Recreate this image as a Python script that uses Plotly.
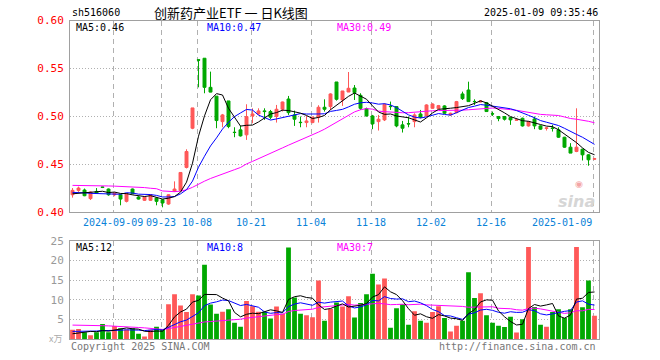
import plotly.graph_objects as go

# ---------------- data ----------------
dates = [
    "2024-08-29", "2024-08-30",
    "2024-09-02", "2024-09-03", "2024-09-04", "2024-09-05", "2024-09-06",
    "2024-09-09", "2024-09-10", "2024-09-11", "2024-09-12", "2024-09-13",
    "2024-09-18", "2024-09-19", "2024-09-20",
    "2024-09-23", "2024-09-24", "2024-09-25", "2024-09-26", "2024-09-27",
    "2024-09-30",
    "2024-10-08", "2024-10-09", "2024-10-10", "2024-10-11",
    "2024-10-14", "2024-10-15", "2024-10-16", "2024-10-17", "2024-10-18",
    "2024-10-21", "2024-10-22", "2024-10-23", "2024-10-24", "2024-10-25",
    "2024-10-28", "2024-10-29", "2024-10-30", "2024-10-31",
    "2024-11-01",
    "2024-11-04", "2024-11-05", "2024-11-06", "2024-11-07", "2024-11-08",
    "2024-11-11", "2024-11-12", "2024-11-13", "2024-11-14", "2024-11-15",
    "2024-11-18", "2024-11-19", "2024-11-20", "2024-11-21", "2024-11-22",
    "2024-11-25", "2024-11-26", "2024-11-27", "2024-11-28", "2024-11-29",
    "2024-12-02", "2024-12-03", "2024-12-04", "2024-12-05", "2024-12-06",
    "2024-12-09", "2024-12-10", "2024-12-11", "2024-12-12", "2024-12-13",
    "2024-12-16", "2024-12-17", "2024-12-18", "2024-12-19", "2024-12-20",
    "2024-12-23", "2024-12-24", "2024-12-25", "2024-12-26", "2024-12-27",
    "2024-12-30", "2024-12-31",
    "2025-01-02", "2025-01-03", "2025-01-06", "2025-01-07", "2025-01-08",
    "2025-01-09",
]

opens = [
    0.4180, 0.4226, 0.4230, 0.4140, 0.4215, 0.4262, 0.4240, 0.4180, 0.4180, 0.4111,
    0.4240, 0.4156, 0.4122, 0.4122, 0.4146, 0.4128, 0.4083, 0.4215, 0.4226, 0.4465,
    0.4875, 0.5590, 0.5606, 0.5302, 0.5210, 0.4944, 0.5160, 0.4833, 0.4858, 0.4806,
    0.5003, 0.5024, 0.5056, 0.5049, 0.4997, 0.5073, 0.5180, 0.5014, 0.4937, 0.4934,
    0.4934, 0.4990, 0.5094, 0.5101, 0.5358, 0.5170, 0.5253, 0.5295, 0.5219, 0.5080,
    0.5003, 0.4944, 0.4962, 0.5104, 0.5101, 0.4910, 0.4923, 0.4944, 0.5024, 0.5003,
    0.5083, 0.5080, 0.5108, 0.5014, 0.5038, 0.5233, 0.5274, 0.5155, 0.5149, 0.5142,
    0.5026, 0.4997, 0.4997, 0.4986, 0.4958, 0.4979, 0.4899, 0.4972, 0.4899, 0.4872,
    0.4878, 0.4858, 0.4781, 0.4677, 0.4632, 0.4656, 0.4597, 0.4552,
]
highs = [
    0.4250, 0.4265, 0.4245, 0.4215, 0.4250, 0.4265, 0.4245, 0.4205, 0.4185, 0.4195,
    0.4245, 0.4165, 0.4160, 0.4185, 0.4150, 0.4135, 0.4185, 0.4320, 0.4415, 0.4655,
    0.5087, 0.5592, 0.5608, 0.5466, 0.5210, 0.5024, 0.5160, 0.4885, 0.4900, 0.5125,
    0.5083, 0.5083, 0.5083, 0.5066, 0.5118, 0.5153, 0.5212, 0.5059, 0.4997, 0.5003,
    0.4997, 0.5115, 0.5177, 0.5240, 0.5358, 0.5264, 0.5462, 0.5326, 0.5240, 0.5090,
    0.5014, 0.5014, 0.5135, 0.5153, 0.5104, 0.4951, 0.4997, 0.5031, 0.5066, 0.5125,
    0.5135, 0.5118, 0.5115, 0.5038, 0.5160, 0.5257, 0.5361, 0.5177, 0.5163, 0.5149,
    0.5049, 0.5003, 0.5003, 0.4993, 0.4969, 0.4986, 0.4951, 0.4997, 0.4906, 0.4885,
    0.4910, 0.4885, 0.4785, 0.4719, 0.5083, 0.4660, 0.4604, 0.4565,
]
lows = [
    0.4150, 0.4210, 0.4165, 0.4125, 0.4190, 0.4250, 0.4170, 0.4165, 0.4070, 0.4100,
    0.4185, 0.4130, 0.4115, 0.4115, 0.4070, 0.4049, 0.4075, 0.4210, 0.4220, 0.4455,
    0.4865, 0.5302, 0.5240, 0.5250, 0.4875, 0.4885, 0.4875, 0.4781, 0.4788, 0.4753,
    0.4927, 0.5014, 0.4962, 0.4969, 0.4934, 0.5050, 0.5014, 0.4899, 0.4885, 0.4885,
    0.4927, 0.4934, 0.5049, 0.5066, 0.5163, 0.5108, 0.5253, 0.5170, 0.5066, 0.4997,
    0.4865, 0.4851, 0.4950, 0.5066, 0.4885, 0.4830, 0.4885, 0.4885, 0.4979, 0.4997,
    0.5080, 0.5073, 0.5024, 0.5007, 0.5031, 0.5170, 0.5149, 0.5118, 0.5146, 0.5045,
    0.5003, 0.4948, 0.4955, 0.4910, 0.4955, 0.4892, 0.4892, 0.4865, 0.4858, 0.4851,
    0.4840, 0.4774, 0.4670, 0.4615, 0.4625, 0.4538, 0.4483, 0.4545,
]
closes = [
    0.4226, 0.4250, 0.4170, 0.4208, 0.4198, 0.4257, 0.4180, 0.4198, 0.4135, 0.4191,
    0.4191, 0.4135, 0.4156, 0.4180, 0.4111, 0.4094, 0.4180, 0.4240, 0.4413, 0.4632,
    0.5087, 0.5586, 0.5302, 0.5252, 0.4955, 0.5014, 0.4892, 0.4830, 0.4795, 0.4997,
    0.5024, 0.5056, 0.5049, 0.4990, 0.5073, 0.5149, 0.5038, 0.4969, 0.4934, 0.4951,
    0.4990, 0.5094, 0.5073, 0.5233, 0.5177, 0.5264, 0.5292, 0.5247, 0.5083, 0.5003,
    0.4920, 0.4969, 0.5125, 0.5101, 0.4899, 0.4875, 0.4920, 0.5014, 0.4990, 0.5118,
    0.5128, 0.5111, 0.5031, 0.5031, 0.5153, 0.5184, 0.5153, 0.5153, 0.5160, 0.5049,
    0.5024, 0.4976, 0.4969, 0.4962, 0.4962, 0.4899, 0.4944, 0.4899, 0.4865, 0.4878,
    0.4872, 0.4781, 0.4677, 0.4615, 0.4677, 0.4597, 0.4545, 0.4556,
]
volumes = [
    2.4, 2.6, 1.8, 1.0, 1.8, 3.9, 1.8, 3.4, 2.8, 2.5,
    2.8, 1.4, 0.7, 2.4, 3.2, 2.5, 8.9, 11.4, 8.6, 6.9,
    11.4, 11.1, 18.9, 8.8, 6.5, 7.0, 7.6, 4.2, 3.2, 9.7,
    8.4, 7.0, 7.0, 5.3, 8.3, 6.5, 23.3, 10.6, 6.5, 6.1,
    5.6, 14.9, 4.7, 7.7, 9.3, 8.3, 10.9, 5.5, 9.2, 11.4,
    16.6, 13.9, 15.4, 2.9, 7.9, 8.9, 3.7, 7.1, 4.7, 4.2,
    6.9, 8.4, 5.4, 1.95, 3.45, 4.7, 17.0, 10.5, 11.7, 6.1,
    4.2, 3.45, 3.1, 5.7, 1.7, 5.1, 23.4, 8.2, 3.7, 3.2,
    6.9, 7.6, 5.4, 7.6, 23.4, 8.1, 14.9, 6.0,
]

# moving-average values before a full window exists
ma5_head = [0.4190, 0.4195, 0.4200, 0.4205]
ma10_head = [0.4205, 0.4205, 0.4200, 0.4195, 0.4192, 0.4190, 0.4190, 0.4188, 0.4185]
ma30_head = [
    0.4278, 0.4278, 0.4278, 0.4278, 0.4278, 0.4278, 0.4272, 0.4270, 0.4268, 0.4265,
    0.4263, 0.4260, 0.4255, 0.4248, 0.4243, 0.4220, 0.4215, 0.4212, 0.4218, 0.4232,
    0.4258, 0.4292, 0.4322, 0.4350, 0.4375, 0.4398, 0.4420, 0.4442, 0.4465,
]
vma5_head = [1.4, 1.6, 1.8, 2.0]
vma10_head = [2.0, 2.0, 2.0, 2.1, 2.1, 2.2, 2.2, 2.3, 2.3]
vma30_head = [
    3.6, 3.6, 3.55, 3.5, 3.5, 3.45, 3.4, 3.35, 3.3, 3.2,
    3.1, 3.0, 2.9, 2.8, 2.6, 2.5, 2.7, 3.0, 3.2, 3.5,
    3.8, 4.2, 4.4, 4.5, 4.6, 4.7, 4.9, 5.0, 5.1,
]

tick_dates = ["2024-09-09", "2024-09-23", "2024-10-08", "2024-10-21", "2024-11-04",
              "2024-11-18", "2024-12-02", "2024-12-16", "2025-01-09"]
tick_text = ["2024-09-09", "09-23", "10-08", "10-21", "11-04",
             "11-18", "12-02", "12-16", "2025-01-09"]

price_ticks = [0.40, 0.45, 0.50, 0.55, 0.60]
price_tick_text = ["0.40", "0.45", "0.50", "0.55", "0.60"]
vol_ticks = [5, 10, 15, 20, 25]
vol_tick_text = ["5", "10", "15", "20", "25"]

title_text = "创新药产业ETF\u00a0一\u00a0日K线图"
code_text = "sh516060"
time_text = "2025-01-09 09:35:46"
price_legend = ["MA5:0.46", "MA10:0.47", "MA30:0.49"]
vol_legend = ["MA5:12", "MA10:8", "MA30:7"]

# ---------------- styling ----------------
RED = "#ff5858"
GREEN = "#00a800"
FRAME = "#a0a0a0"
GRID = "#b0b0b0"
MONO = "DejaVu Sans Mono"

W, H = 660, 360


def px_x(p):
    return p / W


def px_y(p):
    return 1 - p / H


def moving_avg(vals, n, head):
    out = list(head)
    for i in range(len(head), len(vals)):
        out.append(sum(vals[i - n + 1:i + 1]) / n)
    return out


idx = list(range(len(dates)))
ma5 = moving_avg(closes, 5, ma5_head)
ma10 = moving_avg(closes, 10, ma10_head)
ma30 = moving_avg(closes, 30, ma30_head)
vma5 = moving_avg(volumes, 5, vma5_head)
vma10 = moving_avg(volumes, 10, vma10_head)
vma30 = moving_avg(volumes, 30, vma30_head)

tick_pos = [dates.index(d) - 0.2 for d in tick_dates]
vol_colors = [RED if c >= o else GREEN for o, c in zip(opens, closes)]

fig = go.Figure()

fig.add_trace(go.Candlestick(
    x=idx, open=opens, high=highs, low=lows, close=closes,
    increasing=dict(line=dict(color=RED, width=1), fillcolor=RED),
    decreasing=dict(line=dict(color=GREEN, width=1), fillcolor=GREEN),
    whiskerwidth=0, xaxis="x", yaxis="y", showlegend=False, hoverinfo="skip",
))
for series, color in ((ma30, "#ff00ff"), (ma10, "#0000ff"), (ma5, "#000000")):
    fig.add_trace(go.Scatter(x=idx, y=series, mode="lines",
                             line=dict(color=color, width=1),
                             xaxis="x", yaxis="y", showlegend=False, hoverinfo="skip"))

fig.add_trace(go.Bar(x=idx, y=volumes, marker=dict(color=vol_colors, line=dict(width=0)),
                     width=0.8, xaxis="x2", yaxis="y2", showlegend=False, hoverinfo="skip"))
for series, color in ((vma30, "#ff00ff"), (vma10, "#0000ff"), (vma5, "#000000")):
    fig.add_trace(go.Scatter(x=idx, y=series, mode="lines",
                             line=dict(color=color, width=1),
                             xaxis="x2", yaxis="y2", showlegend=False, hoverinfo="skip"))

xdom = [px_x(70), px_x(599)]
xrange_ = [-0.42, len(dates) - 1 + 0.75]

common_x = dict(range=xrange_, domain=xdom, showline=True, mirror=True,
                linecolor=FRAME, linewidth=1, tickvals=tick_pos, showticklabels=False,
                ticks="", showgrid=True, gridcolor=GRID, griddash="5px,4px", gridwidth=1,
                zeroline=False, fixedrange=True)

annotations = []
# x tick labels
for pos, txt in zip(tick_pos, tick_text):
    last = txt == tick_text[-1]
    annotations.append(dict(
        x=pos + (0.12 if last else 0), y=px_y(222), xref="x", yref="paper",
        text=txt, showarrow=False, xanchor="right" if last else "center", yanchor="middle",
        font=dict(family=MONO, size=10, color="#0a82d8")))

hdr_font = dict(family=MONO, size=10, color="#000000")
annotations += [
    dict(x=px_x(70), y=px_y(13), xref="paper", yref="paper", text=code_text,
         showarrow=False, xanchor="left", yanchor="middle", font=hdr_font),
    dict(x=px_x(231), y=px_y(13), xref="paper", yref="paper", text=title_text,
         showarrow=False, xanchor="center", yanchor="middle",
         font=dict(family="Noto Sans CJK SC", size=13, color="#000000")),
    dict(x=px_x(600), y=px_y(13), xref="paper", yref="paper", text=time_text,
         showarrow=False, xanchor="right", yanchor="middle", font=hdr_font),
]
leg_colors = ["#000000", "#0000ff", "#ff00ff"]
for txt, col, xp in zip(price_legend, leg_colors, (74, 205, 335)):
    annotations.append(dict(x=px_x(xp), y=px_y(28), xref="paper", yref="paper", text=txt,
                            showarrow=False, xanchor="left", yanchor="middle",
                            font=dict(family=MONO, size=10, color=col)))
for txt, col, xp in zip(vol_legend, leg_colors, (74, 205, 335)):
    annotations.append(dict(x=px_x(xp), y=px_y(247), xref="paper", yref="paper", text=txt,
                            showarrow=False, xanchor="left", yanchor="middle",
                            font=dict(family=MONO, size=10, color=col)))
annotations += [
    dict(x=px_x(69), y=px_y(346), xref="paper", yref="paper", text="Copyright 2025 SINA.COM",
         showarrow=False, xanchor="left", yanchor="middle",
         font=dict(family=MONO, size=10, color="#777777")),
    dict(x=px_x(598), y=px_y(346), xref="paper", yref="paper", text="http://finance.sina.com.cn",
         showarrow=False, xanchor="right", yanchor="middle",
         font=dict(family=MONO, size=10, color="#777777")),
    dict(x=px_x(64), y=px_y(338), xref="paper", yref="paper", text="x万",
         showarrow=False, xanchor="right", yanchor="middle",
         font=dict(family="Noto Sans CJK SC", size=9, color="#aaaaaa")),
    dict(x=px_x(597), y=px_y(201), xref="paper", yref="paper", text="<b><i>sina</i></b>",
         showarrow=False, xanchor="right", yanchor="middle",
         font=dict(family="DejaVu Sans", size=16, color="#d6d6d6")),
    dict(x=px_x(579), y=px_y(184), xref="paper", yref="paper", text="◉",
         showarrow=False, xanchor="center", yanchor="middle",
         font=dict(family="DejaVu Sans", size=9, color="#f3a5a5")),
]

fig.update_layout(
    width=W, height=H, autosize=False,
    margin=dict(l=0, r=0, t=0, b=0, pad=0),
    paper_bgcolor="#ffffff", plot_bgcolor="#ffffff",
    showlegend=False, bargap=0.2,
    xaxis=dict(common_x, anchor="y", rangeslider=dict(visible=False)),
    xaxis2=dict(common_x, anchor="y2"),
    yaxis=dict(domain=[px_y(212), px_y(20.5)], range=[0.40, 0.60], anchor="x",
               tickvals=price_ticks, ticktext=price_tick_text,
               tickfont=dict(family=MONO, size=11, color="#ff0000"),
               ticks="outside", ticklen=3, tickcolor="rgba(0,0,0,0)",
               showline=True, mirror=True, linecolor=FRAME, linewidth=1,
               showgrid=True, gridcolor=GRID, griddash="1px,2px", gridwidth=1,
               zeroline=False, fixedrange=True, automargin=False),
    yaxis2=dict(domain=[px_y(339.3), px_y(240.7)], range=[0, 25], anchor="x2",
                tickvals=vol_ticks, ticktext=vol_tick_text,
                tickfont=dict(family=MONO, size=11, color="#999999"),
                ticks="outside", ticklen=3, tickcolor="rgba(0,0,0,0)",
                showline=True, mirror=True, linecolor=FRAME, linewidth=1,
                showgrid=True, gridcolor=GRID, griddash="1px,2px", gridwidth=1,
                zeroline=False, fixedrange=True, automargin=False),
    annotations=annotations,
)

fig.write_html(
    "out.html",
    config={"displayModeBar": False, "staticPlot": True},
    post_script="document.body.style.margin='0';document.body.style.padding='0';"
                "document.documentElement.style.overflow='hidden';",
)
